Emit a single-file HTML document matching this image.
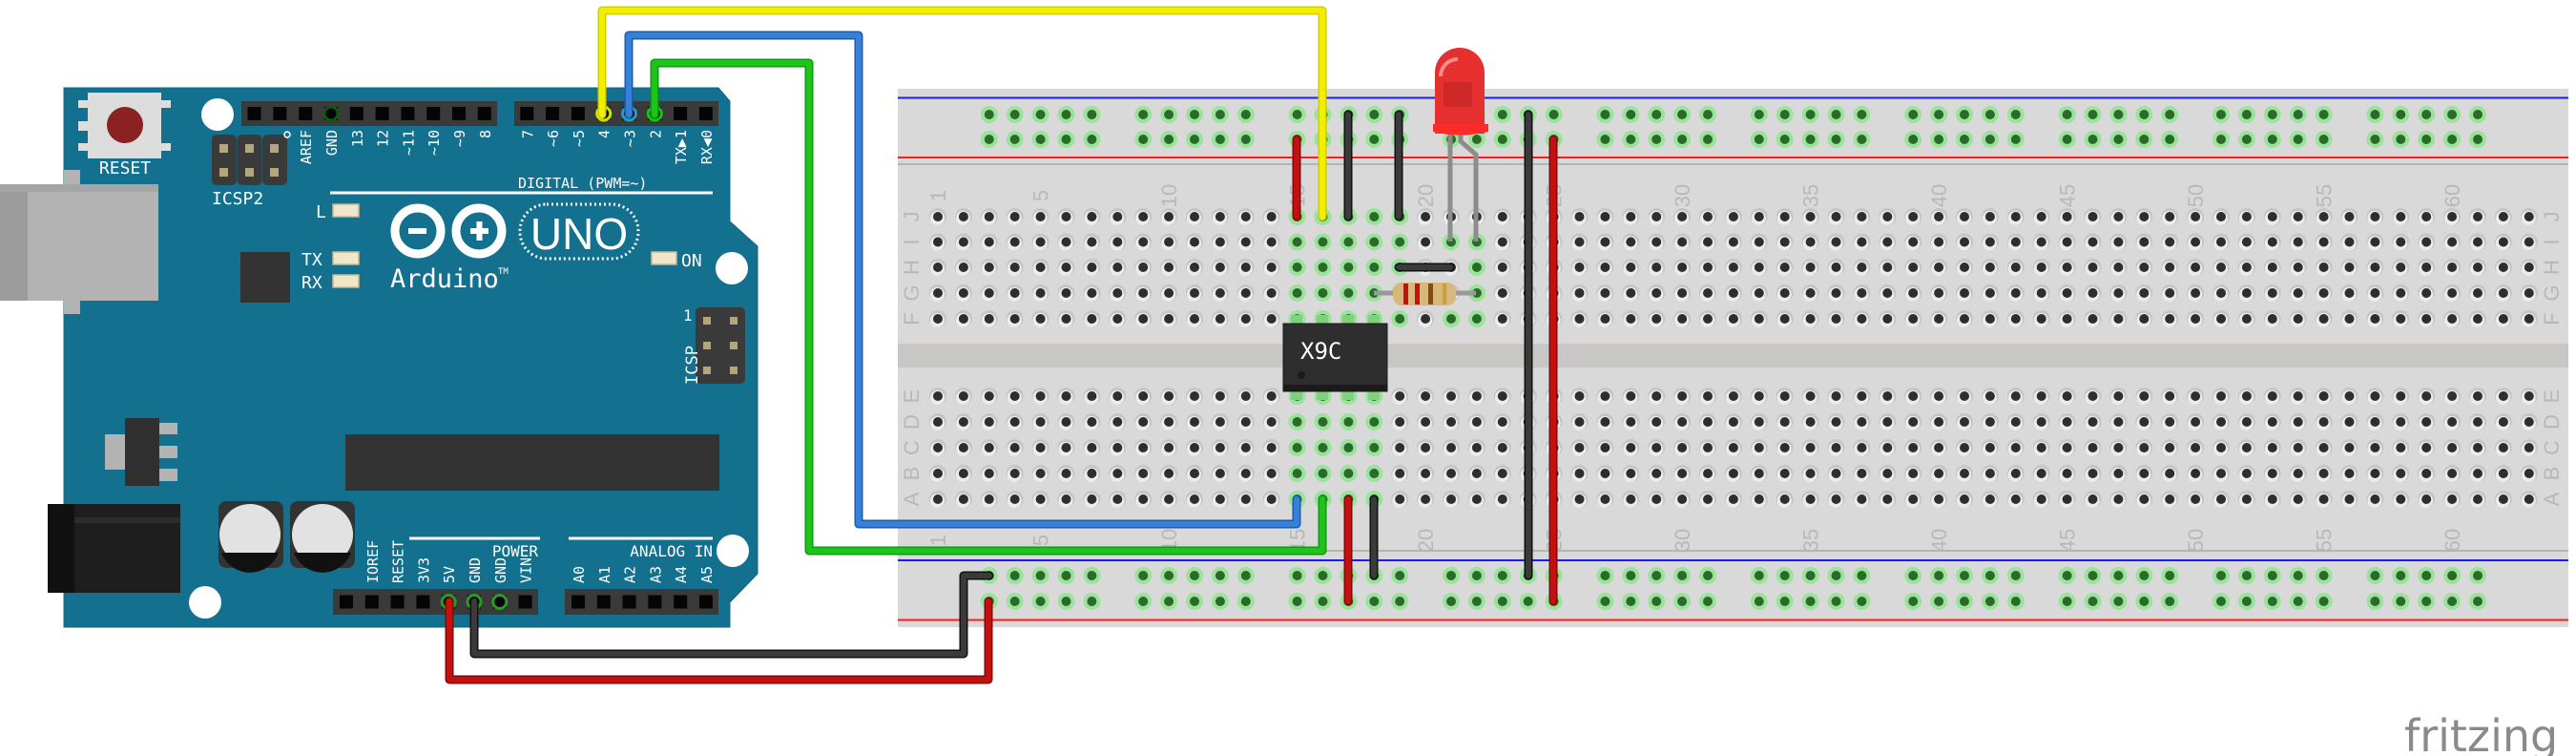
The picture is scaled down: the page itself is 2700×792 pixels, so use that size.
<!DOCTYPE html>
<html><head><meta charset="utf-8"><style>
html,body{margin:0;padding:0;background:#fff;width:2700px;height:792px;overflow:hidden}
svg{display:block}
.wt{fill:#fff;font-family:"DejaVu Sans Mono","Liberation Mono",monospace}
.bl{fill:#b8b8b8;font-family:"Liberation Sans",sans-serif;font-size:22px}
</style></head><body>
<svg id="s" width="2700" height="792" viewBox="0 0 2700 792" xmlns="http://www.w3.org/2000/svg">
<rect x="941" y="93" width="1751" height="564" fill="#d9d9d9"/>
<line x1="941" y1="102.5" x2="2692" y2="102.5" stroke="#1a1aff" stroke-width="2"/>
<line x1="941" y1="165" x2="2692" y2="165" stroke="#ff1a1a" stroke-width="2"/>
<line x1="941" y1="172" x2="2692" y2="172" stroke="#b4b4b4" stroke-width="2"/>
<rect x="941" y="360" width="1751" height="25" fill="#c9c7c5"/>
<line x1="941" y1="577" x2="2692" y2="577" stroke="#b4b4b4" stroke-width="2"/>
<line x1="941" y1="587" x2="2692" y2="587" stroke="#1a1aff" stroke-width="2"/>
<line x1="941" y1="649.5" x2="2692" y2="649.5" stroke="#ff1a1a" stroke-width="2"/>
<g id="holes"></g>
<g id="lbl"></g>

<path d="M67 92 L753 92 L765 106 L765 232 L794 258 L794 601 L765 631 L765 657 L67 657 Z" fill="#13708f" stroke="#0f6582" stroke-width="1"/>
<rect x="0" y="193" width="166" height="122" fill="#b3b3b3"/>
<rect x="0" y="193" width="29" height="122" fill="#9c9c9c"/>
<rect x="0" y="193" width="166" height="8" fill="#a5a5a5"/>
<rect x="67" y="178" width="17" height="15" fill="#b3b3b3"/>
<rect x="67" y="315" width="17" height="14" fill="#b3b3b3"/>
<rect x="82" y="105" width="10" height="8" fill="#ddd"/><rect x="82" y="127" width="10" height="10" fill="#ddd"/><rect x="82" y="150" width="10" height="8" fill="#ddd"/>
<rect x="169" y="105" width="10" height="8" fill="#ddd"/><rect x="169" y="150" width="10" height="8" fill="#ddd"/>
<rect x="92" y="97" width="77" height="69" fill="#dcdcdc"/>
<circle cx="131" cy="131" r="19" fill="#8a2222"/>
<text class="wt" x="131" y="182" font-size="18" text-anchor="middle">RESET</text>
<circle cx="228" cy="120" r="17" fill="#fff"/>
<circle cx="767" cy="281" r="17" fill="#fff"/>
<circle cx="768" cy="577" r="17" fill="#fff"/>
<circle cx="215" cy="631" r="17" fill="#fff"/>
<rect x="253" y="106" width="268" height="26" fill="#3a3a3a"/>
<rect x="539" y="106" width="214" height="26" fill="#3a3a3a"/>
<rect x="349" y="617" width="215" height="27" fill="#3a3a3a"/>
<rect x="592" y="617" width="161" height="27" fill="#3a3a3a"/>
<g id="pins"></g>
<rect x="222" y="141" width="26" height="53" rx="5" fill="#3a3a3a"/>
<rect x="248.5" y="141" width="26" height="53" rx="5" fill="#3a3a3a"/>
<rect x="275" y="141" width="26" height="53" rx="5" fill="#3a3a3a"/>
<g fill="#b5a67a"><rect x="230" y="151" width="9" height="9"/><rect x="230" y="176" width="9" height="9"/><rect x="257" y="151" width="9" height="9"/><rect x="257" y="176" width="9" height="9"/><rect x="283" y="151" width="9" height="9"/><rect x="283" y="176" width="9" height="9"/></g>
<circle cx="301" cy="141" r="3" fill="none" stroke="#fff" stroke-width="1.5"/>
<text class="wt" x="222" y="214" font-size="18">ICSP2</text>
<line x1="346" y1="202" x2="747" y2="202" stroke="#fff" stroke-width="3"/>
<text class="wt" x="543" y="197" font-size="15">DIGITAL (PWM=~)</text>
<g fill="#efe6cc" stroke="#c9b98c" stroke-width="1.5"><rect x="349" y="214" width="27" height="13"/><rect x="349" y="264" width="27" height="13"/><rect x="349" y="288" width="27" height="13"/><rect x="683" y="264" width="26" height="13"/></g>
<text class="wt" x="331" y="228" font-size="18">L</text>
<text class="wt" x="316" y="278" font-size="18">TX</text>
<text class="wt" x="316" y="302" font-size="18">RX</text>
<text class="wt" x="714" y="279" font-size="18">ON</text>
<rect x="252" y="264" width="52" height="53" fill="#333"/>
<circle cx="438" cy="242" r="24" fill="none" stroke="#fff" stroke-width="9"/>
<circle cx="502" cy="242" r="24" fill="none" stroke="#fff" stroke-width="9"/>
<rect x="428" y="239" width="19" height="6" fill="#fff"/>
<rect x="493" y="239" width="19" height="6" fill="#fff"/><rect x="499.5" y="232" width="6" height="20" fill="#fff"/>
<rect x="545" y="214" width="124" height="57" rx="28" fill="none" stroke="#fff" stroke-width="3" stroke-dasharray="2 3"/>
<text x="607" y="261" font-family="Liberation Sans,sans-serif" font-size="46" fill="#fff" text-anchor="middle">UNO</text>
<text class="wt" x="409" y="301" font-size="27">Arduino</text>
<text class="wt" x="522" y="287" font-size="9">TM</text>
<rect x="729" y="322" width="52" height="80" rx="5" fill="#3a3a3a"/>
<g fill="#b5a67a"><rect x="737" y="332" width="8" height="8"/><rect x="765" y="332" width="8" height="8"/><rect x="737" y="358" width="8" height="8"/><rect x="765" y="358" width="8" height="8"/><rect x="737" y="384" width="8" height="8"/><rect x="765" y="384" width="8" height="8"/></g>
<text class="wt" x="716" y="336" font-size="16">1</text>
<text class="wt" font-size="17" transform="translate(731,403) rotate(-90)">ICSP</text>
<rect x="110" y="455" width="21" height="37" fill="#b3b3b3"/>
<rect x="167" y="443" width="19" height="12" fill="#b3b3b3"/><rect x="167" y="467" width="19" height="13" fill="#b3b3b3"/><rect x="167" y="491" width="19" height="13" fill="#b3b3b3"/>
<rect x="131" y="438" width="36" height="71" fill="#2f2f2f"/>
<rect x="362" y="455" width="392" height="59" fill="#333"/>
<rect x="50" y="528" width="139" height="93" fill="#1e1e1e"/>
<rect x="50" y="528" width="28" height="93" fill="#111"/>
<rect x="78" y="542" width="111" height="6" fill="#2c2c2c"/>
<rect x="229" y="525" width="68" height="70" rx="8" fill="#333"/>
<rect x="304" y="525" width="68" height="70" rx="8" fill="#333"/>
<circle cx="262" cy="560" r="32" fill="#e2e2e2"/><circle cx="338" cy="560" r="32" fill="#e2e2e2"/>
<path d="M232 579 A32 32 0 0 0 292 579 Z" fill="#111"/>
<path d="M308 579 A32 32 0 0 0 368 579 Z" fill="#111"/>
<line x1="429" y1="564" x2="566" y2="564" stroke="#fff" stroke-width="3"/>
<line x1="596" y1="564" x2="747" y2="564" stroke="#fff" stroke-width="3"/>
<text class="wt" x="564" y="583" font-size="16" text-anchor="end">POWER</text>
<text class="wt" x="747" y="583" font-size="16" text-anchor="end">ANALOG IN</text>
<g id="plbl"></g>

<g fill="#7fd07f"><rect x="1353" y="330" width="12" height="14"/><rect x="1380" y="330" width="12" height="14"/><rect x="1407" y="330" width="12" height="14"/><rect x="1434" y="330" width="12" height="14"/>
<rect x="1353" y="405" width="12" height="14"/><rect x="1380" y="405" width="12" height="14"/><rect x="1407" y="405" width="12" height="14"/><rect x="1434" y="405" width="12" height="14"/></g>
<rect x="1345" y="339" width="109" height="71" fill="#2e2e2e" stroke="#1a1a1a"/>
<rect x="1345" y="403" width="109" height="7" fill="#1a1a1a"/>
<circle cx="1364" cy="393" r="4" fill="#1a1a1a"/>
<text x="1363" y="376" font-family="DejaVu Sans Mono,monospace" font-size="24" fill="#fff">X9C</text>

<g fill="none" stroke-linejoin="round" stroke-linecap="round">
<g stroke="#d4cd00" stroke-width="9"><path d="M631 120 V11 H1386 V227"/></g>
<g stroke="#f2ee00" stroke-width="6"><path d="M631 120 V11 H1386 V227"/></g>
<g stroke="#1d5bab" stroke-width="9"><path d="M659 120 V37 H900 V549 H1359 V523"/></g>
<g stroke="#3580d8" stroke-width="6"><path d="M659 120 V37 H900 V549 H1359 V523"/></g>
<g stroke="#0f9a0f" stroke-width="9"><path d="M686 120 V66 H848 V577 H1386 V523"/></g>
<g stroke="#1cc41c" stroke-width="6"><path d="M686 120 V66 H848 V577 H1386 V523"/></g>
<g stroke="#111" stroke-width="9"><path d="M497 630 V685 H1010 V603 H1037"/><path d="M1413 120V227"/><path d="M1466 120V227"/><path d="M1602 120V603"/><path d="M1440 523V603"/><path d="M1466 280H1520"/></g>
<g stroke="#3a3a3a" stroke-width="6"><path d="M497 630 V685 H1010 V603 H1037"/><path d="M1413 120V227"/><path d="M1466 120V227"/><path d="M1602 120V603"/><path d="M1440 523V603"/><path d="M1466 280H1520"/></g>
<g stroke="#7d0b0b" stroke-width="9"><path d="M471 630 V712 H1036 V630"/><path d="M1359 146V227"/><path d="M1628 146V630"/><path d="M1413 523V630"/></g>
<g stroke="#c4100f" stroke-width="6"><path d="M471 630 V712 H1036 V630"/><path d="M1359 146V227"/><path d="M1628 146V630"/><path d="M1413 523V630"/></g>
</g>
<line x1="1440" y1="307" x2="1547" y2="307" stroke="#999" stroke-width="5"/>
<rect x="1460" y="296" width="66" height="24" rx="9" fill="#d9b77a"/>
<rect x="1471" y="297" width="5" height="22" fill="#c4100f"/><rect x="1483" y="297" width="5" height="22" fill="#c4100f"/><rect x="1497" y="297" width="5" height="22" fill="#8a4a10"/><rect x="1512" y="297" width="4" height="22" fill="#c9a13a"/>
<path d="M1520 135 V253" stroke="#8c8c8c" stroke-width="5" fill="none"/>
<path d="M1531 135 V148 L1547 162 V253" stroke="#8c8c8c" stroke-width="5" fill="none"/>
<path d="M1504 140 V76 A26 26 0 0 1 1556 76 V140 Z" fill="#e63030"/>
<path d="M1502 130 H1560 V138 Q1530 145 1502 138 Z" fill="#ff2b2b"/>
<path d="M1510 80 A18 18 0 0 1 1528 62" stroke="#ff8a8a" stroke-width="4" fill="none"/>
<rect x="1513" y="86" width="30" height="26" fill="#c42525" opacity="0.7"/>
<text x="2520" y="787" font-family="DejaVu Sans,Liberation Sans,sans-serif" font-size="46" fill="#8a8a8a">fritzing</text>
</svg>
<script>
var NS="http://www.w3.org/2000/svg";
function el(p,t,a,txt){var e=document.createElementNS(NS,t);for(var k in a)e.setAttribute(k,a[k]);if(txt!==undefined)e.textContent=txt;p.appendChild(e);return e;}
var H=document.getElementById('holes'),L=document.getElementById('lbl');
function cx(n){return 983+(n-1)*26.9;}
function hole(x,y,g){el(H,'circle',{cx:x,cy:y,r:9,fill:g?'#9be39b':'#c6c6c6'});if(!g)el(H,'circle',{cx:x-0.5,cy:y+1.5,r:7.5,fill:'#ececec'});el(H,'circle',{cx:x,cy:y,r:5,fill:g?'#2c6a2c':'#2e2e2e'});}
var rows=[227,253.5,280,307,334,415,442,469,496,523];
var green={};
for(var r=0;r<10;r++)for(var c=15;c<=18;c++)green[c+','+r]=1;
green['19,0']=1;green['19,1']=1;green['19,2']=1;green['19,4']=1;
green['21,1']=1;green['21,4']=1;green['22,1']=1;green['22,2']=1;green['22,3']=1;green['22,4']=1;
for(var r=0;r<10;r++)for(var c=1;c<=63;c++)hole(cx(c),rows[r],green[c+','+r]);
[120,146,603,630].forEach(function(y){for(var g=0;g<10;g++)for(var k=0;k<5;k++)hole(cx(3+6*g+k),y,true);});
[1,5,10,15,20,25,30,35,40,45,50,55,60].forEach(function(n){
 [205,566].forEach(function(y){el(L,'text',{'class':'bl',transform:'translate('+(cx(n)+8)+','+y+') rotate(-90)','text-anchor':'middle'},String(n));});});
var letters=['J','I','H','G','F','E','D','C','B','A'];
for(var r=0;r<10;r++){[956,2675].forEach(function(x){el(L,'text',{'class':'bl',transform:'translate('+(x+7)+','+rows[r]+') rotate(-90)','text-anchor':'middle','font-size':'18'},letters[r]);});}
var P=document.getElementById('pins');
function pin(x,y,g){el(P,'rect',{x:x-7,y:y-7,width:14,height:14,fill:'#050505'});if(g){el(P,'circle',{cx:x,cy:y,r:7,fill:'none',stroke:g,'stroke-width':3});}}
for(var i=0;i<10;i++)pin(266.6+i*26.8,119,i==3?'#0d5a0d':null);
var gs={3:'#c6e800',4:'#2a9ac4',5:'#13c613'};
for(var i=0;i<8;i++)pin(552.3+i*26.8,119,gs[i]||null);
for(var i=0;i<8;i++)pin(363+i*26.8,630.5,(i==5||i==6||i==4)?'#2a9a2a':null);
for(var i=0;i<6;i++)pin(606+i*26.8,630.5,null);
var PL=document.getElementById('plbl');
var top1=['','','AREF','GND','13','12','~11','~10','~9','8'];
for(var i=0;i<10;i++)if(top1[i])el(PL,'text',{'class':'wt','font-size':'15',transform:'translate('+(266.6+i*26.8+6)+',136) rotate(-90)','text-anchor':'end'},top1[i]);
var top2=['7','~6','~5','4','~3','2','TX▶1','RX◀0'];
for(var i=0;i<8;i++)el(PL,'text',{'class':'wt','font-size':'15',transform:'translate('+(552.3+i*26.8+6)+',136) rotate(-90)','text-anchor':'end'},top2[i]);
var b1=['','IOREF','RESET','3V3','5V','GND','GND','VIN'];
for(var i=0;i<8;i++)if(b1[i])el(PL,'text',{'class':'wt','font-size':'15',transform:'translate('+(363+i*26.8+6)+',611) rotate(-90)','text-anchor':'start'},b1[i]);
for(var i=0;i<6;i++)el(PL,'text',{'class':'wt','font-size':'15',transform:'translate('+(606+i*26.8+6)+',611) rotate(-90)','text-anchor':'start'},'A'+i);
</script>
</body></html>
